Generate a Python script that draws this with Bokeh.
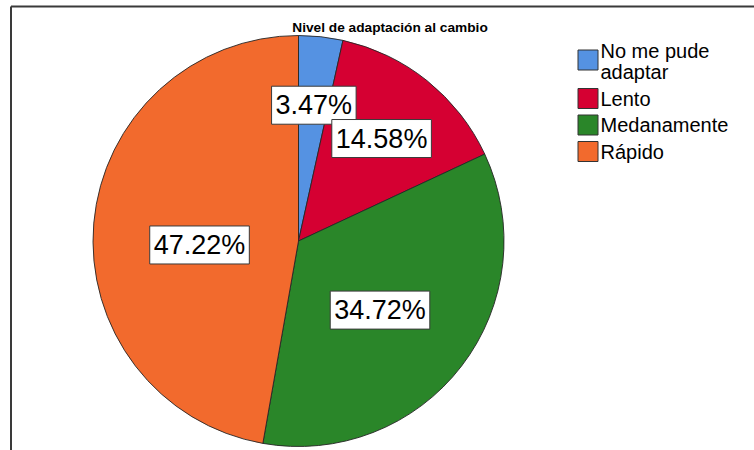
import math
import textwrap
from bokeh.plotting import figure
from bokeh.models import Range1d, ColumnDataSource
from bokeh.core.properties import value
from bokeh.embed import file_html
from bokeh.resources import INLINE

# ---- data ----
title = "Nivel de adaptación al cambio"
categories = ["No me pude adaptar", "Lento", "Medanamente", "Rápido"]
percents = [3.47, 14.58, 34.72, 47.22]
colors = ["#5592E2", "#D50032", "#2A8629", "#F26A2D"]

# ---- layout / style ----
W, H = 754, 450
CX, CY, R = 298, 240.5, 205.5
label_rfrac = [0.665, 0.642, 0.52, 0.482]
label_nudge_deg = [0.2, 0.3, 2.8, -7.3]
FONT = "Liberation Sans"

p = figure(width=W, height=H, output_backend="svg", toolbar_location=None,
           x_range=Range1d(0, W), y_range=Range1d(0, H), min_border=0)
p.axis.visible = False
p.grid.visible = False
p.outline_line_color = None
p.background_fill_color = "white"
p.border_fill_color = "white"

def Y(py):
    return H - py

# frame lines (top and left of the output box)
p.line(x=[10.5, W + 5], y=[Y(6), Y(6)], line_color="#3a3a3a", line_width=2)
p.line(x=[10.5, 10.5], y=[Y(6), Y(H + 5)], line_color="#3a3a3a", line_width=2)

# pie wedges
total = sum(percents)
starts, ends, mids = [], [], []
cum = 0.0
for v in percents:
    a0 = math.pi / 2 - 2 * math.pi * cum / total
    cum += v
    a1 = math.pi / 2 - 2 * math.pi * cum / total
    starts.append(a0)
    ends.append(a1)
    mids.append((a0 + a1) / 2)

src = ColumnDataSource(dict(start=starts, end=ends, color=colors))
p.wedge(x=CX, y=Y(CY), radius=R, start_angle="start", end_angle="end",
        direction="clock", fill_color="color", line_color="#262626",
        line_width=0.9, source=src)

# value labels
lx, ly, lt = [], [], []
for m, f, nd, v in zip(mids, label_rfrac, label_nudge_deg, percents):
    a = m - math.radians(nd)
    lx.append(CX + f * R * math.cos(a))
    ly.append(Y(CY) + f * R * math.sin(a))
    lt.append(f"{v:.2f}%")
p.text(x=lx, y=ly, text=lt, text_align="center", text_baseline="middle",
       text_font=value(FONT), text_font_size="27px", text_color="black",
       background_fill_color="white", border_line_color="#3a3a3a",
       border_line_width=1, padding=[4, 4, 4, 4])

# title
p.text(x=[389.5], y=[Y(26.5)], text=[title], text_align="center",
       text_baseline="middle", text_font=value(FONT),
       text_font_size="13.7px", text_font_style="bold", text_color="black")

# legend (manual)
LEG_X, SQ = 587.5, 20
TXT_X = 600
base = 50.5
line_h, entry_gap = 21, 26.5
sq_x, sq_y, sq_c = [], [], []
tx, ty, tt = [], [], []
for cat, col in zip(categories, colors):
    lines = textwrap.wrap(cat, 11)
    ml = [base + i * line_h for i in range(len(lines))]
    for m, t in zip(ml, lines):
        tx.append(TXT_X)
        ty.append(Y(m))
        tt.append(t)
    centre = (ml[0] + ml[-1]) / 2 + (0 if len(lines) == 1 else -1.5)
    sq_x.append(LEG_X)
    sq_y.append(Y(centre))
    sq_c.append(col)
    base = ml[-1] + entry_gap
p.rect(x=sq_x, y=sq_y, width=SQ, height=SQ, fill_color=sq_c,
       line_color="#333333", line_width=1)
p.text(x=tx, y=ty, text=tt, text_align="left", text_baseline="middle",
       text_font=value(FONT), text_font_size="20px", text_color="black")

open("out.html", "w").write(file_html(p, INLINE))
